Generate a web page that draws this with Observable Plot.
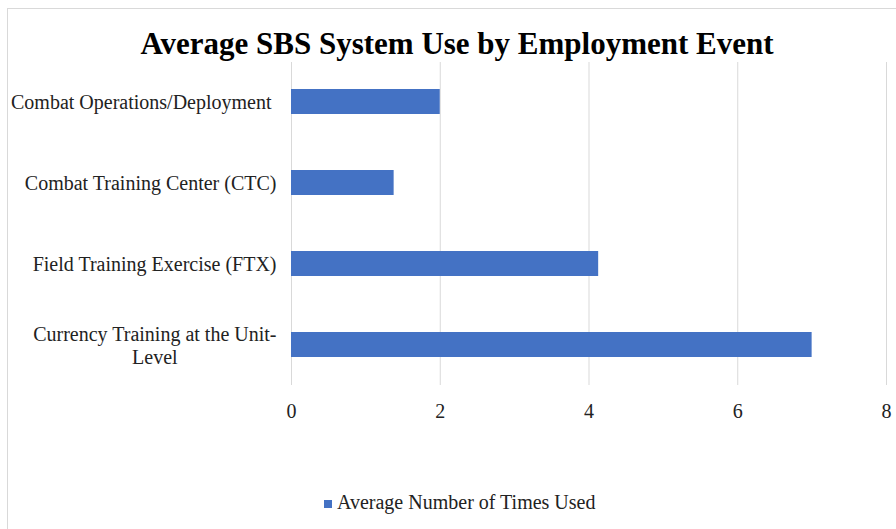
<!DOCTYPE html>
<html>
<head>
<meta charset="utf-8">
<script src="https://cdn.jsdelivr.net/npm/d3@7"></script>
<script src="https://cdn.jsdelivr.net/npm/@observablehq/plot@0.6"></script>
<style>
  html, body { margin: 0; padding: 0; background: #fff; }
  #wrap { position: relative; width: 896px; height: 529px; overflow: hidden; font-family: "Liberation Serif", "Times New Roman", serif; }
  #frame { position: absolute; left: 7px; top: 8px; width: 960px; height: 600px; border: 1px solid #d9d9d9; box-sizing: border-box; }
  #title { position: absolute; left: 0; top: 28px; width: 914px; text-align: center; font-size: 31px; line-height: 31px; font-weight: bold; color: #000; }
  #chart { position: absolute; left: 0; top: 50px; }
  #chart svg text { white-space: pre; }
  #legend { position: absolute; left: 324px; top: 492px; font-size: 20px; line-height: 20px; color: #222; white-space: nowrap; }
  #legend .sw { display: inline-block; width: 8px; height: 8px; background: #4472C4; margin-right: 5px; vertical-align: 1px; }
</style>
</head>
<body>
<div id="wrap">
  <div id="frame"></div>
  <div id="title"></div>
  <div id="chart"></div>
  <div id="legend"></div>
</div>
<script>
const titleText = "Average SBS System Use by Employment Event";
const seriesName = "Average Number of Times Used";
const categories = [
  "Combat Operations/Deployment ",
  "Combat Training Center (CTC)",
  "Field Training Exercise (FTX)",
  "Currency Training at the Unit-\nLevel"
];
const values = [2.0, 1.38, 4.13, 7.0];
const xTicks = [0, 2, 4, 6, 8];
const barColor = "#4472C4";

const data = categories.map((c, i) => ({category: c, value: values[i]}));

document.getElementById("title").textContent = titleText;
const lg = document.getElementById("legend");
const sw = document.createElement("span"); sw.className = "sw";
lg.appendChild(sw);
lg.appendChild(document.createTextNode(seriesName));

const chart = Plot.plot({
  width: 896,
  height: 380,
  marginTop: 12,
  marginBottom: 45,
  marginLeft: 291,
  marginRight: 10,
  x: {domain: [0, 8], ticks: xTicks, label: null},
  y: {domain: categories, paddingInner: 0.69, paddingOuter: 0.32, label: null},
  style: {fontFamily: "Liberation Serif, Times New Roman, serif", fontSize: "20px", color: "#222", background: "transparent"},
  marks: [
    Plot.gridX(xTicks, {stroke: "#d9d9d9", strokeOpacity: 1}),
    Plot.barX(data, {x: "value", y: "category", fill: barColor}),
    Plot.axisX({ticks: xTicks, tickSize: 0, tickPadding: 18, fontSize: 20, label: null}),
    Plot.axisY({tickSize: 0, tickPadding: 15, fontSize: 20, lineHeight: 1.15, label: null})
  ]
});
document.getElementById("chart").appendChild(chart);

// center the lines of a wrapped category label (like the original)
chart.querySelectorAll("text").forEach(t => {
  const spans = t.querySelectorAll("tspan");
  if (spans.length > 1) {
    let w = 0;
    spans.forEach(s => { w = Math.max(w, s.getComputedTextLength()); });
    t.setAttribute("text-anchor", "middle");
    spans.forEach(s => s.setAttribute("x", -w / 2));
  }
});
</script>
</body>
</html>
